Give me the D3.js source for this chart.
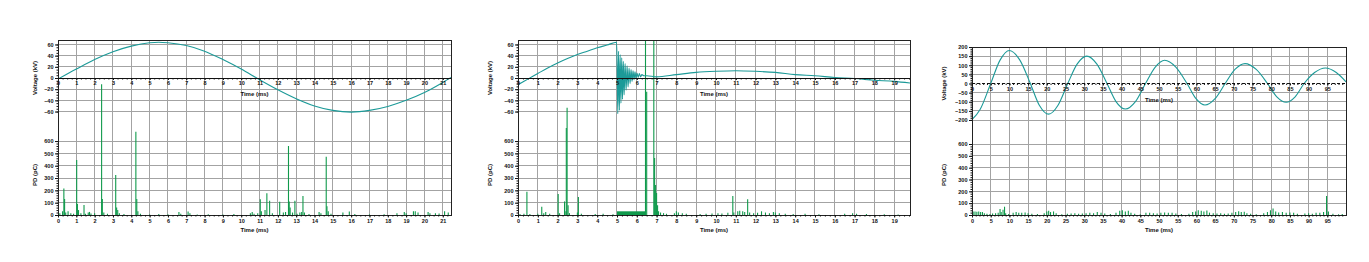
<!DOCTYPE html>
<html>
<head>
<meta charset="utf-8">
<script src="https://cdn.jsdelivr.net/npm/d3@7"></script>
<style>
  body { margin: 0; background: #fff; }
  text { font-family: "Liberation Sans", Arial, sans-serif; font-weight: bold; }
</style>
</head>
<body>
<svg id="chart" width="1369" height="262"></svg>
<script>
// ---- panel 1 : voltage (kV) vs time (ms)
const volt1T = [0, 1, 2, 3, 4, 5, 5.5, 6, 7, 8, 9, 10, 11, 12, 13, 14, 15, 16, 17, 18, 19, 20, 21, 21.45];
const volt1V = [-2, 16, 33, 47, 57, 63, 64, 63, 58, 48, 33, 16, -3, -21, -37, -50, -58, -61, -58, -51, -40, -26, -8, 1];
// PD pulses [time ms, charge pC]
const pd1 = [[0.1,15],[0.25,30],[0.32,216],[0.36,130],[0.42,20],[0.55,30],[0.7,15],[0.85,10],[1.02,446],[1.06,90],
  [1.12,40],[1.25,15],[1.42,81],[1.5,10],[1.65,20],[1.72,25],[1.8,12],[2.0,15],[2.38,1060],[2.42,130],[2.5,20],
  [2.7,10],[3.15,324],[3.2,60],[3.26,40],[3.35,15],[3.6,8],[4.25,676],[4.3,130],[4.36,30],[4.5,10],[5.0,5],
  [5.5,8],[6.0,6],[6.6,25],[6.7,10],[7.1,28],[7.2,15],[7.6,5],[8.2,6],[9.0,5],[9.6,8],[10.5,15],[10.6,25],
  [10.7,10],[10.9,15],[11.04,127],[11.1,30],[11.3,40],[11.4,176],[11.55,116],[11.7,15],[12.1,108],[12.3,20],
  [12.42,25],[12.58,560],[12.62,110],[12.67,60],[12.8,20],[12.93,116],[13.05,10],[13.2,20],[13.3,25],[13.37,154],
  [13.45,20],[13.7,8],[14.25,25],[14.35,15],[14.64,473],[14.68,70],[14.75,30],[14.9,10],[15.55,20],[15.9,28],
  [16.2,8],[17.0,5],[17.8,6],[18.5,15],[18.9,25],[19.0,15],[19.4,30],[19.5,30],[19.65,20],[20.2,25],[20.3,15],
  [20.6,15],[20.8,12],[21.1,30],[21.3,20]];
const pd1Blocks = [];
const ticks1X = d3.range(0, 22);

// ---- panel 2
const volt2T = [0, 0.5, 1, 1.5, 2, 2.5, 3, 3.5, 4, 4.5, 4.98,
  5.01, 5.04, 5.08, 5.12, 5.16, 5.2, 5.24, 5.28, 5.32, 5.36, 5.41, 5.46, 5.51, 5.56, 5.61, 5.66, 5.71, 5.76,
  5.81, 5.86, 5.91, 5.96, 6.01, 6.07, 6.13, 6.19, 6.26, 6.36, 6.5,
  7, 8, 9, 10, 11, 12, 13, 14, 15, 16, 17, 18, 19, 19.8];
const volt2V = [-12, -2, 8, 18, 27, 35, 42, 48, 54, 59, 64,
  20, -64, 48, -58, 42, -45, 36, -38, 30, -30, 26, -22, 22, -16, 18, -10, 15, -6,
  13, -3, 11, -1, 9, 1, 8, 2, 6, 4, 4,
  2, 6, 10, 12, 13, 12, 10, 6, 4, 1, -1, -4, -6, -9];
const pd2 = [[0.1,8],[0.3,10],[0.45,189],[0.6,8],[1.0,10],[1.2,67],[1.3,15],[1.4,25],[1.6,10],[2.03,170],
  [2.1,15],[2.35,110],[2.42,30],[2.44,705],[2.48,870],[2.53,80],[2.6,15],[3.0,20],[3.05,146],[3.2,10],[3.9,8],
  [4.3,10],[4.8,6],[6.44,2500],[6.5,1000],[6.86,2500],[6.9,462],[6.95,243],[7.0,178],[7.05,80],[7.1,30],
  [7.2,20],[7.35,15],[7.5,10],[7.9,15],[8.0,30],[8.1,20],[8.3,15],[8.5,10],[9.2,8],[9.5,10],[9.8,12],[10.1,15],
  [10.3,12],[10.6,18],[10.85,154],[10.9,20],[11.1,30],[11.2,35],[11.35,30],[11.45,25],[11.6,127],[11.7,20],
  [11.9,15],[12.1,18],[12.3,30],[12.5,20],[12.7,15],[12.9,25],[13.0,20],[13.2,15],[13.5,10],[13.9,8],[14.5,10],
  [15.2,6],[16.5,10],[16.9,15],[17.1,10],[17.6,8],[18.5,6],[19.2,5]];
// continuous PD activity [start ms, end ms, level pC]
const pd2Blocks = [[5.0, 6.44, 30]];
const ticks2X = d3.range(0, 20);

// ---- panel 3
const volt3T = [0, 2.2, 5, 7.5, 10, 12.8, 15.6, 18, 20.5, 23, 25.6, 28.1, 30.7, 33.4, 36.1, 38.5, 41, 43.7,
  46.4, 49, 51.5, 54.5, 57.5, 59.9, 62.3, 65, 67.7, 70.3, 73, 76, 79, 81.5, 84, 86.4, 88.8, 91.6, 94.5, 97.4, 100];
const volt3V = [-198, -141, 0, 128, 181, 128, 0, -119, -168, -119, 0, 106, 150, 106, 0, -99, -140, -99,
  0, 90, 127, 90, 0, -83, -118, -83, 0, 77, 109, 77, 0, -73, -103, -73, 0, 60, 85, 60, 9];
const pd3 = [[0.3,30],[0.8,30],[1.3,28],[1.8,30],[2.3,25],[2.8,25],[3.3,15],[4.0,10],[4.8,8],[5.5,12],[6.3,15],
  [7.0,20],[7.5,50],[7.8,25],[8.3,45],[8.7,70],[9.0,15],[9.8,8],[11.0,20],[11.8,25],[12.5,20],[13.3,18],[14.2,22],
  [15.0,15],[16.0,10],[17.5,8],[19.3,15],[20.0,30],[20.5,35],[21.0,25],[21.8,30],[22.5,15],[24.0,6],[25.5,10],
  [26.5,12],[27.5,15],[28.5,10],[29.5,12],[30.5,15],[31.5,20],[32.5,15],[33.5,25],[34.5,20],[35.5,12],[37.0,8],
  [38.5,20],[39.5,35],[40.2,40],[41.0,30],[41.8,35],[42.5,20],[43.5,10],[45.0,6],[46.5,20],[47.5,18],[48.5,15],
  [49.5,12],[50.5,18],[51.5,22],[52.5,20],[53.5,18],[54.5,12],[56.0,8],[58.0,10],[59.0,25],[59.8,30],[60.5,40],
  [61.3,35],[62.0,30],[62.8,38],[63.5,20],[64.5,15],[65.5,12],[66.5,15],[67.5,10],[68.5,12],[69.5,20],[70.5,25],
  [71.3,32],[72.0,25],[72.8,28],[73.5,15],[74.5,10],[76.0,6],[78.0,15],[79.0,25],[79.8,40],[80.5,55],[81.2,30],
  [82.0,22],[83.0,25],[84.0,20],[85.0,22],[86.0,18],[87.0,10],[89.0,12],[90.0,15],[91.0,10],[92.0,18],[93.0,20],
  [94.0,25],[94.8,160],[95.3,30],[96.5,10],[98.0,6],[99.0,8]];
const pd3Blocks = [];
const ticks3X = d3.range(0, 100, 5);

const ticksV12 = [-60, -40, -20, 0, 20, 40, 60];
const ticksV3 = [-200, -150, -100, -50, 0, 50, 100, 150, 200];
const ticksPD = [0, 100, 200, 300, 400, 500, 600];

const panels = [
  {id: 1, tT: volt1T, vV: volt1V, pd: pd1, blocks: pd1Blocks, xTicks: ticks1X, xMinor: 0.25, tMax: 21.45,
   vTicks: ticksV12, vMinor: 5, vDom: [-68, 68], left: 58, right: 451, top: 40, vBottom: 116, bottom: 215,
   pdMax: 1420, labelX: 37, dashedZero: false},
  {id: 2, tT: volt2T, vV: volt2V, pd: pd2, blocks: pd2Blocks, xTicks: ticks2X, xMinor: 0.25, tMax: 19.8,
   vTicks: ticksV12, vMinor: 5, vDom: [-68, 68], left: 518, right: 910, top: 40, vBottom: 116, bottom: 215,
   pdMax: 1420, labelX: 492, dashedZero: false},
  {id: 3, tT: volt3T, vV: volt3V, pd: pd3, blocks: pd3Blocks, xTicks: ticks3X, xMinor: 1, tMax: 100,
   vTicks: ticksV3, vMinor: 10, vDom: [-200, 200], left: 972, right: 1346, top: 47, vBottom: 120, bottom: 215,
   pdMax: 1420, labelX: 946, dashedZero: true}
];

const svg = d3.select("#chart");
const gridColor = "#a3a3a3";
const voltColor = "#1c9a98";
const pdColor = "#109a4c";

panels.forEach(drawPanel);

function drawPanel(p) {
    const x = d3.scaleLinear().domain([0, p.tMax]).range([p.left, p.right]);
    const yV = d3.scaleLinear().domain(p.vDom).range([p.vBottom, p.top]);
    const yP = d3.scaleLinear().domain([0, p.pdMax]).range([p.bottom, p.top]);

    const g = svg.append("g");

    svg.append("clipPath").attr("id", "clip" + p.id)
        .append("rect")
        .attr("x", p.left).attr("y", p.top)
        .attr("width", p.right - p.left).attr("height", p.bottom - p.top);

    // grid
    const grid = g.append("g")
        .attr("stroke", gridColor)
        .attr("stroke-width", 1)
        .attr("shape-rendering", "crispEdges");
    grid.selectAll(".gx").data(p.xTicks.slice(1)).join("line")
        .attr("x1", d => x(d)).attr("x2", d => x(d))
        .attr("y1", p.top).attr("y2", p.bottom);
    grid.selectAll(".gv").data(p.vTicks.filter(d => d !== 0)).join("line")
        .attr("class", "gv")
        .attr("x1", p.left).attr("x2", p.right)
        .attr("y1", d => yV(d)).attr("y2", d => yV(d));
    grid.selectAll(".gp").data(ticksPD.slice(1)).join("line")
        .attr("class", "gp")
        .attr("x1", p.left).attr("x2", p.right)
        .attr("y1", d => yP(d)).attr("y2", d => yP(d));

    // PD pulses
    const pdG = g.append("g").attr("clip-path", `url(#clip${p.id})`);
    pdG.selectAll("rect.block").data(p.blocks).join("rect")
        .attr("class", "block")
        .attr("x", d => x(d[0])).attr("width", d => x(d[1]) - x(d[0]))
        .attr("y", d => yP(d[2])).attr("height", d => yP(0) - yP(d[2]))
        .attr("fill", pdColor);
    pdG.selectAll("line").data(p.pd).join("line")
        .attr("x1", d => x(d[0])).attr("x2", d => x(d[0]))
        .attr("y1", yP(0)).attr("y2", d => yP(d[1]))
        .attr("stroke", pdColor)
        .attr("stroke-width", 1.1);

    // voltage
    const pts = p.tT.map((t, i) => [t, p.vV[i]]);
    g.append("path")
        .datum(pts)
        .attr("clip-path", `url(#clip${p.id})`)
        .attr("fill", "none")
        .attr("stroke", voltColor)
        .attr("stroke-width", 1.1)
        .attr("d", d3.line().x(d => x(d[0])).y(d => yV(d[1])).curve(d3.curveMonotoneX));

    // frame
    g.append("rect")
        .attr("x", p.left).attr("y", p.top)
        .attr("width", p.right - p.left).attr("height", p.bottom - p.top)
        .attr("fill", "none").attr("stroke", "#222").attr("stroke-width", 1)
        .attr("shape-rendering", "crispEdges");

    // axes
    const styleAxis = sel => {
        sel.selectAll("text").attr("font-size", 5.5).attr("fill", "#111");
        sel.selectAll("line").attr("stroke", "#111");
        sel.select(".domain").attr("stroke", "#111");
    };

    const vMinorVals = d3.range(p.vTicks[0], p.vTicks[p.vTicks.length - 1] + 0.001, p.vMinor);
    g.append("g").attr("transform", `translate(${p.left},0)`)
        .call(d3.axisLeft(yV).tickValues(vMinorVals).tickSize(1.5).tickFormat(""))
        .call(s => s.select(".domain").remove())
        .call(styleAxis);
    g.append("g").attr("transform", `translate(${p.left},0)`)
        .call(d3.axisLeft(yV).tickValues(p.vTicks).tickSize(3).tickPadding(1.5))
        .call(s => s.select(".domain").remove())
        .call(styleAxis);

    const pMinorVals = d3.range(0, 601, 20);
    g.append("g").attr("transform", `translate(${p.left},0)`)
        .call(d3.axisLeft(yP).tickValues(pMinorVals).tickSize(1.5).tickFormat(""))
        .call(s => s.select(".domain").remove())
        .call(styleAxis);
    g.append("g").attr("transform", `translate(${p.left},0)`)
        .call(d3.axisLeft(yP).tickValues(ticksPD).tickSize(3).tickPadding(1.5))
        .call(s => s.select(".domain").remove())
        .call(styleAxis);

    // time axis on the voltage zero line
    const xMinorVals = d3.range(0, p.tMax, p.xMinor);
    const zeroY = yV(0);
    const zeroAxis = g.append("g").attr("transform", `translate(0,${zeroY})`);
    zeroAxis.append("line")
        .attr("x1", p.left).attr("x2", p.right)
        .attr("stroke", "#111").attr("stroke-width", 1)
        .attr("stroke-dasharray", p.dashedZero ? "3,2" : null)
        .attr("shape-rendering", "crispEdges");
    zeroAxis.append("g")
        .call(d3.axisBottom(x).tickValues(xMinorVals).tickSize(1.5).tickFormat(""))
        .call(s => s.select(".domain").remove())
        .call(styleAxis);
    zeroAxis.append("g")
        .call(d3.axisBottom(x).tickValues(p.xTicks).tickSize(2).tickPadding(1.5))
        .call(s => s.select(".domain").remove())
        .call(styleAxis);
    zeroAxis.append("text")
        .attr("x", (p.left + p.right) / 2).attr("y", 18)
        .attr("text-anchor", "middle").attr("font-size", 6).attr("fill", "#111")
        .text("Time (ms)");

    // time axis at the bottom
    const botAxis = g.append("g").attr("transform", `translate(0,${p.bottom})`);
    botAxis.append("g")
        .call(d3.axisBottom(x).tickValues(xMinorVals).tickSize(1.5).tickFormat(""))
        .call(s => s.select(".domain").remove())
        .call(styleAxis);
    botAxis.append("g")
        .call(d3.axisBottom(x).tickValues(p.xTicks).tickSize(2.5).tickPadding(1.5))
        .call(s => s.select(".domain").remove())
        .call(styleAxis);
    botAxis.append("text")
        .attr("x", (p.left + p.right) / 2).attr("y", 17)
        .attr("text-anchor", "middle").attr("font-size", 6).attr("fill", "#111")
        .text("Time (ms)");

    // axis titles
    g.append("text")
        .attr("transform", `translate(${p.labelX},${(p.top + p.vBottom) / 2}) rotate(-90)`)
        .attr("text-anchor", "middle").attr("font-size", 6).attr("fill", "#111")
        .text("Voltage (kV)");
    g.append("text")
        .attr("transform", `translate(${p.labelX},175) rotate(-90)`)
        .attr("text-anchor", "middle").attr("font-size", 6).attr("fill", "#111")
        .text("PD (pC)");
}
</script>
</body>
</html>
